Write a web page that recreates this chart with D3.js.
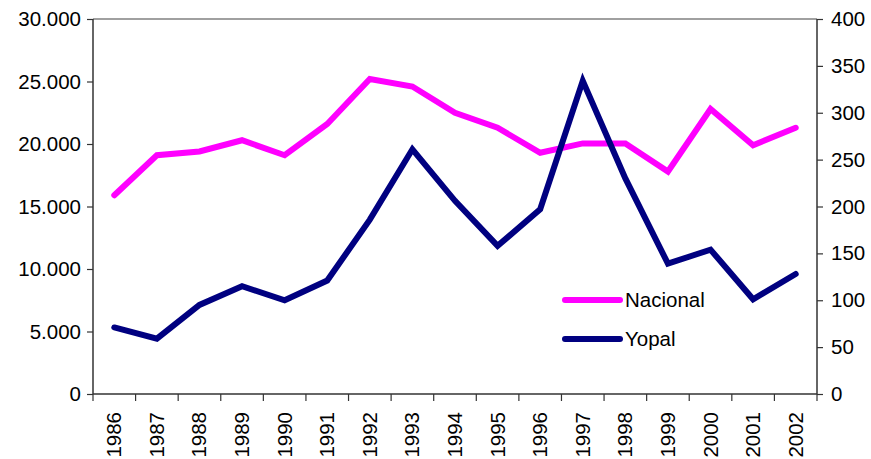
<!DOCTYPE html>
<html>
<head>
<meta charset="utf-8">
<script src="https://cdn.jsdelivr.net/npm/d3@7"></script>
<style>
  body { margin: 0; background: #fff; }
  text { font-family: "Liberation Sans", Arial, sans-serif; fill: #000; }
</style>
</head>
<body>
<script>
// data
var years = ["1986","1987","1988","1989","1990","1991","1992","1993","1994","1995","1996","1997","1998","1999","2000","2001","2002"];
var nacional = [15900,19100,19400,20300,19100,21600,25200,24600,22500,21300,19300,20050,20050,17800,22800,19900,21300];
var yopal = [71,59,95,115,100,121,186,261,206,158,197,334,230,139,154,101,128];
var leftTicks = [0,5000,10000,15000,20000,25000,30000];
var rightTicks = [0,50,100,150,200,250,300,350,400];

var W = 871, H = 459;
var x0 = 93, x1 = 817, yTop = 19, yBot = 394;
var fs = "20.5px";

var svg = d3.select("body").append("svg")
    .attr("width", W).attr("height", H);

var x = d3.scaleBand().domain(years).range([x0, x1]);
var yL = d3.scaleLinear().domain([0, 30000]).range([yBot, yTop]);
var yR = d3.scaleLinear().domain([0, 400]).range([yBot, yTop]);

var fmt = function(d){ return d3.format(",")(d).replace(/,/g, "."); };

// top border of plot area
svg.append("line")
    .attr("x1", x0).attr("x2", x1).attr("y1", yTop).attr("y2", yTop)
    .attr("stroke", "#808080").attr("stroke-width", 1.5);

// left axis
var gL = svg.append("g").attr("transform", "translate(" + x0 + ",0)")
    .call(d3.axisLeft(yL).tickValues(leftTicks).tickFormat(fmt).tickSize(6).tickPadding(6));
// right axis
var gR = svg.append("g").attr("transform", "translate(" + x1 + ",0)")
    .call(d3.axisRight(yR).tickValues(rightTicks).tickSize(6).tickPadding(8));

[gL, gR].forEach(function(g){
  g.select(".domain").attr("stroke", "#333").attr("stroke-width", 1.5).attr("d", "M0," + yTop + "V" + yBot);
  g.selectAll(".tick line").attr("stroke", "#333").attr("stroke-width", 1.2);
  g.selectAll("text").style("font-size", fs).attr("fill", "#000");
});

// bottom axis: ticks between categories
var gB = svg.append("g").attr("transform", "translate(0," + yBot + ")");
gB.append("line").attr("x1", x0).attr("x2", x1).attr("stroke", "#333").attr("stroke-width", 1.5);
var bounds = years.map(function(d){ return x(d); }).concat([x1]);
gB.selectAll(".tk").data(bounds).enter().append("line")
    .attr("x1", function(d){ return d; }).attr("x2", function(d){ return d; })
    .attr("y1", 0).attr("y2", 7)
    .attr("stroke", "#333").attr("stroke-width", 1.2);
gB.selectAll(".lbl").data(years).enter().append("text")
    .attr("transform", function(d){ return "translate(" + (x(d) + x.bandwidth()/2 + 7) + ",18) rotate(-90)"; })
    .attr("text-anchor", "end")
    .style("font-size", fs)
    .text(function(d){ return d; });

var cx = function(d, i){ return x(years[i]) + x.bandwidth()/2; };

svg.append("path").datum(nacional)
    .attr("fill", "none").attr("stroke", "#FF00FF").attr("stroke-width", 6)
    .attr("stroke-linejoin", "miter").attr("stroke-linecap", "round")
    .attr("d", d3.line().x(cx).y(function(d){ return yL(d); }));

svg.append("path").datum(yopal)
    .attr("fill", "none").attr("stroke", "#000080").attr("stroke-width", 6)
    .attr("stroke-linejoin", "miter").attr("stroke-linecap", "round")
    .attr("d", d3.line().x(cx).y(function(d){ return yR(d); }));

// legend
var legend = [{name: "Nacional", color: "#FF00FF", y: 300}, {name: "Yopal", color: "#000080", y: 339}];
var lg = svg.selectAll(".leg").data(legend).enter().append("g");
lg.append("line")
    .attr("x1", 565).attr("x2", 620)
    .attr("y1", function(d){ return d.y; }).attr("y2", function(d){ return d.y; })
    .attr("stroke", function(d){ return d.color; }).attr("stroke-width", 6).attr("stroke-linecap", "round");
lg.append("text")
    .attr("x", 625).attr("y", function(d){ return d.y + 7; })
    .style("font-size", fs)
    .text(function(d){ return d.name; });
</script>
</body>
</html>
